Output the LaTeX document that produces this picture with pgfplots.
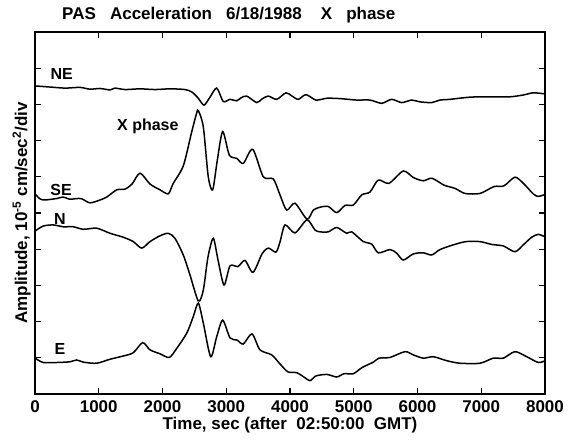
\documentclass[border=0pt]{standalone}
\usepackage{fontspec}
\setmainfont{Liberation Sans}
\usepackage{pgfplots}
\pgfplotsset{compat=1.18}
\begin{document}
\begin{tikzpicture}
\useasboundingbox (-35pt,-48pt) rectangle (535pt,394pt);
\begin{axis}[
  scale only axis, width=510pt, height=362pt,
  xmin=0, xmax=8000, ymin=0, ymax=10,
  xtick={0,1000,...,8000},
  ytick={1,2,...,9}, yticklabels={},
  tick align=inside, major tick length=6pt,
  tick style={line width=1.2pt, black},
  axis line style={line width=1.6pt},
  every tick label/.style={font=\bfseries\fontsize{17}{19}\selectfont},
  xticklabel style={yshift=-3pt},
  /pgf/number format/assume math mode=true,
  /pgf/number format/1000 sep={},
  scaled x ticks=false,
  xlabel={\bfseries\fontsize{17}{19}\selectfont Time, sec (after\ \ 02:50:00\ \ GMT)},
  xlabel style={yshift=2pt},
  ylabel={\bfseries\fontsize{17}{19}\selectfont Amplitude, 10\textsuperscript{-5} cm/sec\textsuperscript{2}/div},
  ylabel style={yshift=-6pt},
  clip=false,
]
\pgfplotsset{trace/.style={black, line width=1.5pt, no markers, smooth, tension=0.45}}
% NE
\addplot[trace] coordinates {(0,8.51)(235,8.48)(471,8.45)(706,8.47)(863,8.42)(1020,8.44)(1176,8.40)(1255,8.45)(1412,8.41)(1647,8.43)(1882,8.41)(2118,8.43)(2353,8.41)(2463,8.34)(2557,8.18)(2651,7.98)(2745,8.20)(2850,8.45)(2954,8.08)(3059,8.14)(3164,8.10)(3231,8.18)(3321,8.23)(3478,8.05)(3561,8.15)(3660,8.23)(3791,8.14)(3937,8.32)(4031,8.23)(4130,8.14)(4251,8.27)(4408,8.12)(4580,8.17)(4784,8.16)(5046,8.12)(5255,8.12)(5438,8.03)(5595,8.14)(5752,8.05)(5909,8.12)(6039,8.07)(6223,8.05)(6353,8.12)(6510,8.14)(6824,8.20)(7137,8.21)(7451,8.21)(7660,8.26)(7816,8.32)(8000,8.29)};
% SE
\addplot[trace] coordinates {(0,5.53)(78,5.39)(157,5.36)(340,5.40)(439,5.44)(549,5.38)(654,5.40)(737,5.39)(863,5.28)(1020,5.36)(1125,5.44)(1282,5.64)(1412,5.66)(1522,5.80)(1647,6.10)(1804,5.80)(1961,5.64)(2091,5.53)(2169,5.82)(2326,6.30)(2458,7.24)(2536,7.76)(2562,7.83)(2640,7.38)(2718,6.00)(2787,5.64)(2860,6.46)(2944,7.25)(3048,6.60)(3164,6.51)(3267,6.37)(3415,6.76)(3581,6.00)(3738,5.94)(3843,5.50)(3948,5.08)(4078,5.27)(4267,4.83)(4366,5.08)(4471,5.16)(4601,5.18)(4733,5.01)(4863,5.21)(4993,5.22)(5125,5.50)(5255,5.58)(5385,5.91)(5553,5.82)(5777,6.16)(5934,5.98)(6091,5.89)(6227,5.96)(6416,5.77)(6588,5.68)(6745,5.54)(6980,5.54)(7200,5.73)(7357,5.75)(7529,5.99)(7671,5.80)(7820,5.52)(7895,5.46)(8000,5.51)};
% N
\addplot[trace] coordinates {(0,4.50)(130,4.64)(287,4.67)(444,4.62)(601,4.62)(758,4.55)(968,4.58)(1176,4.44)(1385,4.33)(1542,4.21)(1674,4.03)(1804,4.21)(1961,4.37)(2091,4.44)(2196,4.30)(2326,3.84)(2431,3.29)(2562,2.57)(2640,2.87)(2714,3.79)(2797,4.30)(2871,3.70)(2965,3.01)(3059,3.54)(3184,3.52)(3294,3.69)(3420,3.36)(3561,3.87)(3660,4.03)(3780,3.92)(3843,4.20)(3922,4.67)(4078,4.45)(4267,4.81)(4392,4.53)(4471,4.48)(4601,4.48)(4733,4.60)(4889,4.44)(4968,4.48)(5150,4.21)(5282,4.14)(5385,3.90)(5569,3.99)(5674,3.89)(5777,3.70)(5934,3.87)(6091,3.90)(6223,3.84)(6353,3.99)(6561,4.12)(6761,4.21)(6980,4.21)(7169,4.13)(7346,4.09)(7529,3.93)(7660,4.12)(7791,4.33)(7895,4.41)(8000,4.34)};
% E
\addplot[trace] coordinates {(0,0.99)(130,0.87)(340,0.87)(549,0.89)(654,0.94)(758,0.88)(968,0.85)(1176,0.96)(1385,1.05)(1542,1.14)(1689,1.42)(1804,1.22)(1961,1.11)(2107,1.01)(2223,1.26)(2380,1.68)(2483,2.14)(2562,2.51)(2640,1.96)(2756,1.03)(2850,1.58)(2944,2.04)(3059,1.55)(3169,1.49)(3267,1.38)(3404,1.66)(3529,1.22)(3713,1.08)(3843,0.83)(3969,0.61)(4105,0.59)(4209,0.48)(4314,0.37)(4408,0.50)(4580,0.54)(4733,0.47)(4847,0.56)(4993,0.56)(5129,0.73)(5307,0.88)(5396,0.99)(5569,1.01)(5804,1.17)(5934,1.08)(6091,0.99)(6248,1.03)(6458,0.92)(6667,0.85)(6980,0.85)(7189,0.99)(7346,0.99)(7529,1.17)(7713,1.03)(7895,0.87)(8000,0.92)};
\begin{scope}[every node/.style={font=\bfseries\fontsize{16}{18}\selectfont}]
\node at (axis cs:420,8.84) {NE};
\node at (axis cs:1770,7.40) {X phase};
\node at (axis cs:410,5.64) {SE};
\node at (axis cs:390,4.83) {N};
\node at (axis cs:390,1.24) {E};
\node[anchor=base, font=\bfseries\fontsize{17}{19}\selectfont] at ([yshift=12pt]rel axis cs:0.38,1) {PAS\ \ \ Acceleration\ \ \ 6/18/1988\ \ \ \ X\ \ \ phase};
\end{scope}
\end{axis}
\end{tikzpicture}
\end{document}
